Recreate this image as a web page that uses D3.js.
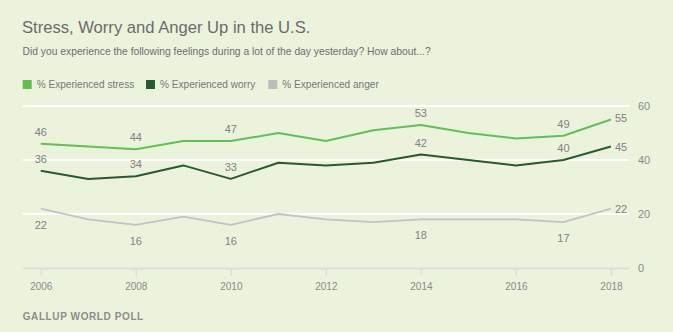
<!DOCTYPE html>
<html>
<head>
<meta charset="utf-8">
<script src="https://cdn.jsdelivr.net/npm/d3@7"></script>
<style>
  body { margin: 0; background: #ecf3dd; }
  svg { display: block; font-family: "Liberation Sans", Arial, sans-serif; }
</style>
</head>
<body>
<svg id="chart"></svg>
<script>
// data
var years = [2006, 2007, 2008, 2009, 2010, 2011, 2012, 2013, 2014, 2015, 2016, 2017, 2018];
var stress = [46, 45, 44, 47, 47, 50, 47, 51, 53, 50, 48, 49, 55];
var worry = [36, 33, 34, 38, 33, 39, 38, 39, 42, 40, 38, 40, 45];
var anger = [22, 18, 16, 19, 16, 20, 18, 17, 18, 18, 18, 17, 22];
var labelYears = [2006, 2008, 2010, 2014, 2017];
var yTicks = [0, 20, 40, 60];
var xTicks = [2006, 2008, 2010, 2012, 2014, 2016, 2018];
var seriesNames = ["% Experienced stress", "% Experienced worry", "% Experienced anger"];

var w = 673, h = 332;
var colors = ["#62c152", "#255b31", "#c4c2c6"];
var legendColors = ["#5fc04c", "#255b31", "#bdbdbd"];

var svg = d3.select("#chart").attr("width", w).attr("height", h);

svg.append("text")
    .attr("x", 22).attr("y", 33)
    .attr("fill", "#6b6b6b")
    .style("font-size", "16.6px")
    .text("Stress, Worry and Anger Up in the U.S.");

svg.append("text")
    .attr("x", 22.5).attr("y", 55)
    .attr("fill", "#6e6e6e")
    .style("font-size", "10.3px")
    .text("Did you experience the following feelings during a lot of the day yesterday? How about...?");

// legend
var legendX = [22.7, 146, 268.3];
var legend = svg.append("g").selectAll("g")
    .data(seriesNames)
    .enter().append("g")
    .attr("transform", function (d, i) { return "translate(" + legendX[i] + ",80)"; });
legend.append("rect")
    .attr("width", 9).attr("height", 9)
    .attr("fill", function (d, i) { return legendColors[i]; });
legend.append("text")
    .attr("x", 14).attr("y", 8)
    .attr("fill", "#777")
    .style("font-size", "10.1px")
    .text(function (d) { return d; });

var x = d3.scaleLinear().domain([2005.62, 2018.38]).range([22.7, 629]);
var y = d3.scaleLinear().domain([0, 60]).range([268, 106]);

// gridlines
svg.append("g").selectAll("line")
    .data(yTicks.filter(function (d) { return d > 0; }))
    .enter().append("line")
    .attr("x1", x.range()[0]).attr("x2", x.range()[1])
    .attr("y1", function (d) { return y(d); })
    .attr("y2", function (d) { return y(d); })
    .attr("stroke", "#fff")
    .attr("stroke-width", 2);

// right axis
var yAxis = svg.append("g")
    .attr("transform", "translate(629,0)")
    .call(d3.axisRight(y).tickValues(yTicks).tickSize(0).tickPadding(9));
yAxis.select(".domain").remove();
yAxis.selectAll("text")
    .attr("fill", "#8a8a8a")
    .style("font-size", "11px")
    .style("font-family", "Liberation Sans, Arial, sans-serif");

// bottom axis
var xAxis = svg.append("g")
    .attr("transform", "translate(0," + y(0) + ")")
    .call(d3.axisBottom(x).tickValues(xTicks).tickFormat(d3.format("d")).tickSize(8).tickSizeOuter(0).tickPadding(7));
xAxis.select(".domain").attr("stroke", "#dcdcdc").attr("stroke-width", 2);
xAxis.selectAll(".tick line").attr("stroke", "#dcdcdc").attr("stroke-width", 1.5);
xAxis.selectAll("text")
    .attr("fill", "#8a8a8a")
    .style("font-size", "10px")
    .style("font-family", "Liberation Sans, Arial, sans-serif");

// lines
var series = [stress, worry, anger];
var line = d3.line()
    .x(function (d) { return x(d.year); })
    .y(function (d) { return y(d.value); });

series.forEach(function (vals, i) {
    var pts = years.map(function (yr, j) { return { year: yr, value: vals[j] }; });
    svg.append("path")
        .datum(pts)
        .attr("fill", "none")
        .attr("stroke", colors[i])
        .attr("stroke-width", i === 2 ? 1.8 : 2)
        .attr("stroke-linejoin", "round")
        .attr("d", line);

    // value labels: stress & worry above, anger below
    var above = i < 2;
    svg.append("g").selectAll("text")
        .data(pts.filter(function (d) { return labelYears.indexOf(d.year) >= 0; }))
        .enter().append("text")
        .attr("x", function (d) { return x(d.year); })
        .attr("y", function (d) { return y(d.value) + (above ? -8 : 20); })
        .attr("text-anchor", "middle")
        .attr("fill", "#808080")
        .style("font-size", "11px")
        .text(function (d) { return d.value; });

    // end label
    var last = pts[pts.length - 1];
    svg.append("text")
        .attr("x", x(last.year) + 4)
        .attr("y", y(last.value) + (i === 0 ? 2 : 4))
        .attr("fill", "#808080")
        .style("font-size", "11px")
        .text(last.value);
});

svg.append("text")
    .attr("x", 22.7).attr("y", 319.5)
    .attr("fill", "#8c8c8c")
    .style("font-size", "10px")
    .style("font-weight", "bold")
    .style("letter-spacing", "0.6px")
    .text("GALLUP WORLD POLL");
</script>
</body>
</html>
